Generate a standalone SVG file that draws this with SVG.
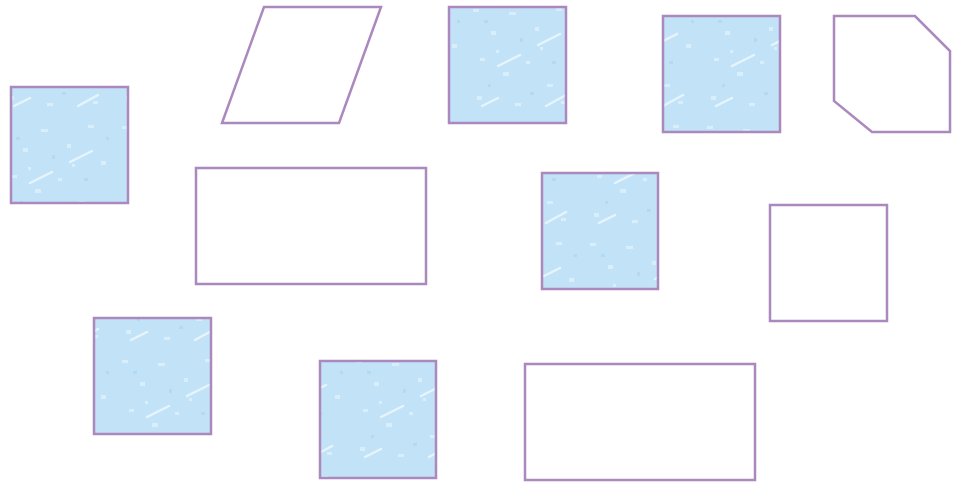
<svg xmlns="http://www.w3.org/2000/svg" width="957" height="485" viewBox="0 0 957 485">
<defs>
<pattern id="tex" patternUnits="userSpaceOnUse" width="117" height="117">
<rect width="117" height="117" fill="#c2e2f7"/>
<g fill="#d9eefb">
<rect x="5" y="9" width="6" height="3"/><rect x="23" y="31" width="5" height="4"/><rect x="41" y="12" width="7" height="3"/>
<rect x="67" y="27" width="4" height="4"/><rect x="88" y="8" width="6" height="3"/><rect x="101" y="44" width="5" height="4"/>
<rect x="12" y="58" width="5" height="3"/><rect x="35" y="72" width="6" height="4"/><rect x="58" y="61" width="4" height="3"/>
<rect x="79" y="84" width="6" height="3"/><rect x="9" y="96" width="5" height="4"/><rect x="47" y="103" width="6" height="3"/>
<rect x="93" y="101" width="5" height="3"/><rect x="28" y="50" width="3" height="3"/><rect x="72" y="47" width="3" height="3"/>
</g>
<g fill="#b3d9f3">
<rect x="16" y="20" width="4" height="3"/><rect x="52" y="38" width="3" height="4"/><rect x="84" y="61" width="4" height="3"/>
<rect x="20" y="84" width="3" height="3"/><rect x="62" y="92" width="4" height="3"/><rect x="106" y="20" width="3" height="3"/>
</g>
<path d="M30 66 L52 55 M70 45 L92 34 M14 106 L30 98 M78 106 L98 95" stroke="#eaf6fd" stroke-width="2.5" stroke-linecap="round" opacity="0.9"/>
</pattern>
</defs>
<style>
.s{stroke:#ab88bd;stroke-width:2.5;fill:none}
.f{fill:url(#tex);stroke:#ab88bd;stroke-width:2.5}
</style>
<rect width="957" height="485" fill="#ffffff"/>
<g id="n1"><rect class="f" x="11" y="87" width="117" height="116"/></g>
<g id="n2"><polygon class="s" points="264,7 381,7 339,123 222,123"/></g>
<g id="n3"><rect class="f" x="449" y="7" width="117" height="116"/></g>
<g id="n4"><rect class="f" x="663" y="16" width="117" height="116"/></g>
<g id="n5"><polygon class="s" points="834,16 915,16 950,51 950,132 872,132 834,101"/></g>
<g id="n6"><rect class="s" x="196" y="168" width="230" height="116"/></g>
<g id="n7"><rect class="f" x="542" y="173" width="116" height="116"/></g>
<g id="n8"><rect class="s" x="770" y="205" width="117" height="116"/></g>
<g id="n9"><rect class="f" x="94" y="318" width="117" height="116"/></g>
<g id="n10"><rect class="f" x="320" y="361" width="116" height="117"/></g>
<g id="n11"><rect class="s" x="525" y="364" width="230" height="116"/></g>
<g id="connectors"></g>
</svg>
